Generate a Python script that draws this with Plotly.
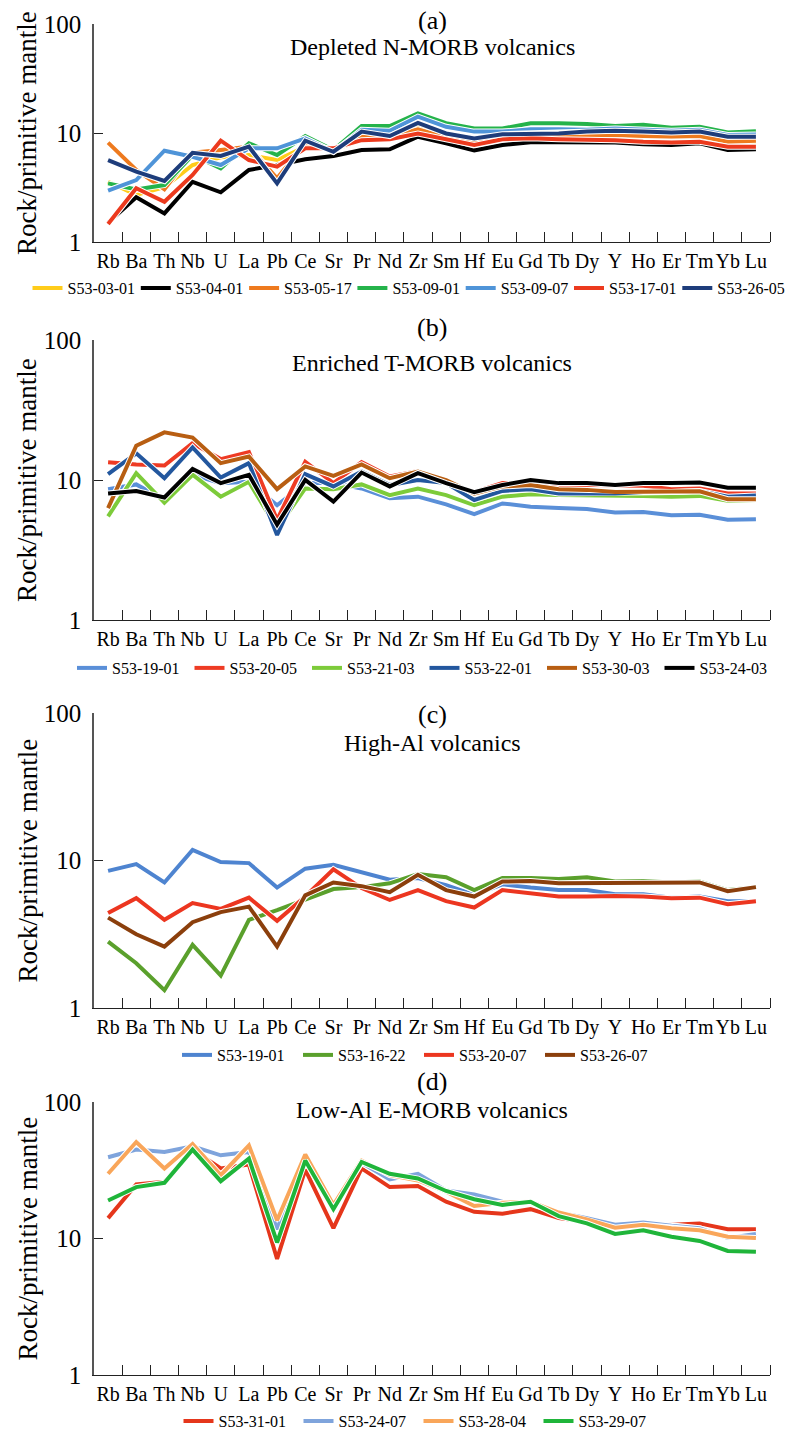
import plotly.graph_objects as go

SERIF = "Liberation Serif, Times New Roman, serif"
W, H = 787, 1432

elements = ["Rb", "Ba", "Th", "Nb", "U", "La", "Pb", "Ce", "Sr", "Pr", "Nd", "Zr",
            "Sm", "Hf", "Eu", "Gd", "Tb", "Dy", "Y", "Ho", "Er", "Tm", "Yb", "Lu"]

# ---------------- Panel (a) Depleted N-MORB volcanics ----------------
a_S53_03_01 = [3.57, 2.7, 3.18, 5.09, 5.98, 6.28, 5.65, 7.49, 6.98, 8.6, 8.93, 11.4, 9.38, 8.04, 8.76, 8.93, 8.93, 9.1, 8.76, 8.76, 8.6, 8.93, 7.93, 8.2]
a_S53_04_01 = [1.50, 2.57, 1.83, 3.57, 2.86, 4.58, 5.09, 5.74, 6.15, 6.98, 7.09, 9.25, 8.04, 6.9, 7.76, 8.22, 8.22, 8.22, 8.2, 7.87, 7.76, 8.04, 6.98, 7.1]
a_S53_05_17 = [8.15, 4.58, 3.04, 6.59, 6.98, 7.49, 3.84, 8.04, 6.98, 9.25, 9.25, 10.8, 9.1, 8.32, 9.25, 9.6, 9.4, 9.6, 9.6, 9.4, 9.25, 9.4, 8.3, 8.5]
a_S53_09_01 = [3.45, 3.04, 3.33, 6.28, 4.74, 8.04, 6.28, 9.38, 6.98, 11.6, 11.6, 15.1, 12.3, 11.0, 11.0, 12.3, 12.3, 12.1, 11.6, 11.9, 11.2, 11.4, 10.1, 10.4]
a_S53_09_07 = [2.96, 3.7, 6.88, 6.06, 5.09, 7.23, 7.23, 8.93, 6.73, 10.7, 10.5, 14.1, 11.4, 10.3, 10.3, 10.8, 10.8, 10.7, 11.0, 10.8, 10.5, 10.7, 9.6, 9.7]
a_S53_17_01 = [1.46, 3.11, 2.34, 4.12, 8.5, 5.65, 4.91, 7.23, 7.23, 8.6, 8.76, 9.9, 8.76, 7.76, 8.76, 8.93, 8.76, 8.76, 8.6, 8.3, 8.2, 8.3, 7.49, 7.49]
a_S53_26_05 = [5.65, 4.42, 3.63, 6.59, 6.15, 7.49, 3.45, 8.5, 6.73, 10.3, 9.38, 12.4, 9.9, 8.93, 9.73, 9.9, 9.9, 10.3, 10.5, 10.3, 10.1, 10.3, 9.25, 9.25]

# ---------------- Panel (b) Enriched T-MORB volcanics ----------------
b_S53_19_01 = [8.6, 9.3, 7.2, 10.9, 9.5, 9.7, 6.6, 9.5, 9.5, 8.7, 7.4, 7.6, 6.7, 5.7, 6.8, 6.45, 6.3, 6.2, 5.85, 5.9, 5.6, 5.65, 5.2, 5.25]
b_S53_20_05 = [13.4, 12.9, 12.7, 18.3, 14.1, 15.8, 5.2, 13.5, 9.5, 13.4, 10.6, 11.6, 9.7, 8.2, 9.5, 9.5, 9.2, 9.2, 9.1, 9.1, 8.6, 8.7, 8.0, 8.0]
b_S53_21_03 = [5.5, 11.2, 6.9, 10.9, 7.6, 9.7, 4.5, 8.7, 8.6, 9.3, 7.8, 8.7, 7.8, 6.6, 7.6, 7.9, 7.8, 7.8, 7.7, 7.7, 7.6, 7.7, 7.1, 7.2]
b_S53_22_01 = [11.0, 15.5, 10.3, 17.1, 10.4, 13.2, 4.05, 11.0, 9.0, 11.5, 9.2, 10.0, 9.5, 7.2, 8.35, 8.6, 8.0, 8.0, 8.0, 8.2, 8.2, 8.35, 7.6, 7.75]
b_S53_30_03 = [6.3, 17.6, 21.9, 20.1, 13.2, 14.7, 8.6, 12.5, 10.7, 12.9, 10.3, 11.5, 10.0, 8.0, 9.0, 9.2, 8.6, 8.5, 8.2, 8.2, 8.2, 8.3, 7.3, 7.3]
b_S53_24_03 = [8.0, 8.35, 7.5, 12.0, 9.5, 10.9, 4.8, 10.0, 7.0, 11.3, 9.0, 11.2, 9.5, 8.2, 9.2, 10.0, 9.5, 9.5, 9.2, 9.5, 9.5, 9.6, 8.8, 8.8]

# ---------------- Panel (c) High-Al volcanics ----------------
c_S53_19_01 = [8.5, 9.45, 7.1, 11.8, 9.75, 9.6, 6.55, 8.8, 9.35, 8.3, 7.4, 7.6, 6.8, 5.85, 6.9, 6.55, 6.3, 6.3, 5.9, 5.9, 5.6, 5.7, 5.3, 5.3]
c_S53_16_22 = [2.82, 2.01, 1.32, 2.68, 1.66, 3.96, 4.6, 5.4, 6.4, 6.6, 7.0, 8.1, 7.7, 6.3, 7.6, 7.6, 7.5, 7.7, 7.2, 7.25, 7.1, 7.2, 6.3, 6.6]
c_S53_20_07 = [4.4, 5.55, 3.96, 5.14, 4.7, 5.6, 3.9, 5.7, 8.7, 6.5, 5.4, 6.3, 5.3, 4.8, 6.3, 6.0, 5.7, 5.7, 5.75, 5.7, 5.55, 5.6, 5.05, 5.3]
c_S53_26_07 = [4.1, 3.16, 2.61, 3.82, 4.47, 4.87, 2.61, 5.8, 7.1, 6.7, 6.1, 8.0, 6.3, 5.7, 7.2, 7.25, 7.0, 7.0, 7.0, 7.0, 7.0, 7.1, 6.2, 6.6]

# ---------------- Panel (d) Low-Al E-MORB volcanics ----------------
d_S53_31_01 = [14.1, 24.9, 26.0, 44.8, 32.6, 34.8, 7.08, 32.0, 11.9, 32.6, 23.8, 24.2, 18.6, 15.7, 15.2, 16.4, 14.1, 13.3, 12.4, 12.7, 12.6, 12.9, 11.7, 11.7]
d_S53_24_07 = [39.4, 44.8, 43.0, 47.3, 40.7, 43.0, 11.7, 40.0, 17.3, 35.8, 27.1, 29.8, 22.5, 21.0, 18.6, 18.3, 15.5, 14.1, 12.6, 13.1, 12.4, 11.9, 10.1, 10.8]
d_S53_28_04 = [29.8, 50.9, 32.6, 49.2, 29.1, 48.1, 13.6, 41.2, 17.6, 37.2, 29.1, 26.6, 22.0, 17.3, 18.3, 18.6, 15.5, 13.8, 12.0, 12.6, 11.9, 11.5, 10.3, 10.1]
d_S53_29_07 = [19.0, 23.8, 25.6, 44.8, 26.3, 38.5, 9.35, 37.2, 16.4, 36.4, 29.8, 27.5, 22.3, 19.4, 17.6, 18.6, 14.6, 12.9, 10.8, 11.5, 10.3, 9.6, 8.1, 8.0]

panels = [
    dict(label="(a)", subtitle="Depleted N-MORB volcanics",
         series=[("S53-03-01", a_S53_03_01, "#FFCC1A"), ("S53-04-01", a_S53_04_01, "#000000"),
                 ("S53-05-17", a_S53_05_17, "#EE7A1E"), ("S53-09-01", a_S53_09_01, "#25B34B"),
                 ("S53-09-07", a_S53_09_07, "#4F94D8"), ("S53-17-01", a_S53_17_01, "#EC3A1E"),
                 ("S53-26-05", a_S53_26_05, "#1E3D7B")]),
    dict(label="(b)", subtitle="Enriched T-MORB volcanics",
         series=[("S53-19-01", b_S53_19_01, "#5A8FD8"), ("S53-20-05", b_S53_20_05, "#EE3B24"),
                 ("S53-21-03", b_S53_21_03, "#7DCB3A"), ("S53-22-01", b_S53_22_01, "#23579E"),
                 ("S53-30-03", b_S53_30_03, "#B85E12"), ("S53-24-03", b_S53_24_03, "#000000")]),
    dict(label="(c)", subtitle="High-Al volcanics",
         series=[("S53-19-01", c_S53_19_01, "#4E84D0"), ("S53-16-22", c_S53_16_22, "#5AA02C"),
                 ("S53-20-07", c_S53_20_07, "#EC3620"), ("S53-26-07", c_S53_26_07, "#8B3F0C")]),
    dict(label="(d)", subtitle="Low-Al E-MORB volcanics",
         series=[("S53-31-01", d_S53_31_01, "#E5361B"), ("S53-24-07", d_S53_24_07, "#7FA4DC"),
                 ("S53-28-04", d_S53_28_04, "#F9A65A"), ("S53-29-07", d_S53_29_07, "#1FB53A")]),
]

# pixel geometry (top of axis = 100, bottom = 1)
geom = [
    dict(top=24, bottom=242, lab_y=20, sub_y=47, leg_y=288, leg_x=27.5, entry=63.3),
    dict(top=340, bottom=620, lab_y=327, sub_y=363, leg_y=668, leg_x=72, entry=72.5),
    dict(top=713, bottom=1008, lab_y=714, sub_y=743, leg_y=1055, leg_x=177, entry=76),
    dict(top=1102, bottom=1375, lab_y=1081, sub_y=1110, leg_y=1421, leg_x=178.5, entry=75),
]
X0, X1 = 94, 770

fig = go.Figure()
xpos = list(range(len(elements)))
layout = dict(width=W, height=H, margin=dict(l=0, r=0, t=0, b=0, autoexpand=False),
              paper_bgcolor="white", plot_bgcolor="white", showlegend=True,
              font=dict(family=SERIF, color="black"))
annotations = []

for k, (p, g) in enumerate(zip(panels, geom)):
    sfx = "" if k == 0 else str(k + 1)
    xa, ya = "x" + sfx, "y" + sfx
    leg = "legend" + sfx
    for name, vals, col in p["series"]:
        fig.add_trace(go.Scatter(x=xpos, y=vals, mode="lines", xaxis=xa, yaxis=ya,
                                 line=dict(color="white", width=6), showlegend=False,
                                 hoverinfo="skip"))
        fig.add_trace(go.Scatter(x=xpos, y=vals, mode="lines", name=name, xaxis=xa, yaxis=ya,
                                 line=dict(color=col, width=4), legend=leg))
    ydom = [1 - g["bottom"] / H, 1 - g["top"] / H]
    layout["xaxis" + sfx] = dict(
        domain=[X0 / W, X1 / W], anchor=ya, range=[-0.5, 23.5], automargin=False,
        tickmode="array", tickvals=xpos, ticktext=elements, ticks="", tickangle=0,
        showline=True, linecolor="#222", linewidth=1.3, showgrid=False, zeroline=False,
        tickfont=dict(family=SERIF, size=20, color="black"), ticklabelstandoff=1,
        minor=dict(tickmode="array", tickvals=[i + 0.5 for i in range(24)], ticks="inside",
                   ticklen=10, tickwidth=1.3, tickcolor="#222", showgrid=False),
        fixedrange=True)
    layout["yaxis" + sfx] = dict(
        domain=ydom, anchor=xa, type="log", range=[0, 2], automargin=False,
        tickmode="array", tickvals=[1, 10, 100], ticktext=["1", "10", "100"],
        ticks="inside", ticklen=9, tickwidth=1.3, tickcolor="#222",
        showline=True, linecolor="#555", linewidth=1.6, showgrid=False, zeroline=False,
        tickfont=dict(family=SERIF, size=25, color="black"), ticklabelstandoff=6,
        fixedrange=True)
    layout[leg] = dict(orientation="h", x=g["leg_x"] / W, xanchor="left",
                       y=1 - g["leg_y"] / H, yanchor="middle",
                       font=dict(family=SERIF, size=16, color="black"),
                       entrywidth=g["entry"], entrywidthmode="pixels", itemwidth=30,
                       bgcolor="rgba(0,0,0,0)", traceorder="normal")
    cx = (X0 + X1) / 2 / W
    annotations.append(dict(text=p["label"], x=cx, y=1 - g["lab_y"] / H, xref="paper", yref="paper",
                            xanchor="center", yanchor="middle", showarrow=False,
                            font=dict(family=SERIF, size=26, color="black")))
    annotations.append(dict(text=p["subtitle"], x=cx, y=1 - g["sub_y"] / H, xref="paper", yref="paper",
                            xanchor="center", yanchor="middle", showarrow=False,
                            font=dict(family=SERIF, size=24, color="black")))
    annotations.append(dict(text="Rock/primitive mantle", x=27 / W,
                            y=1 - (g["top"] + g["bottom"]) / 2 / H, xref="paper", yref="paper",
                            xanchor="center", yanchor="middle", textangle=-90, showarrow=False,
                            font=dict(family=SERIF, size=27, color="black")))

layout["annotations"] = annotations
fig.update_layout(**layout)
fig.write_html("out.html", config={"displayModeBar": False},
               post_script="document.body.style.margin='0';document.body.style.overflow='hidden';")
